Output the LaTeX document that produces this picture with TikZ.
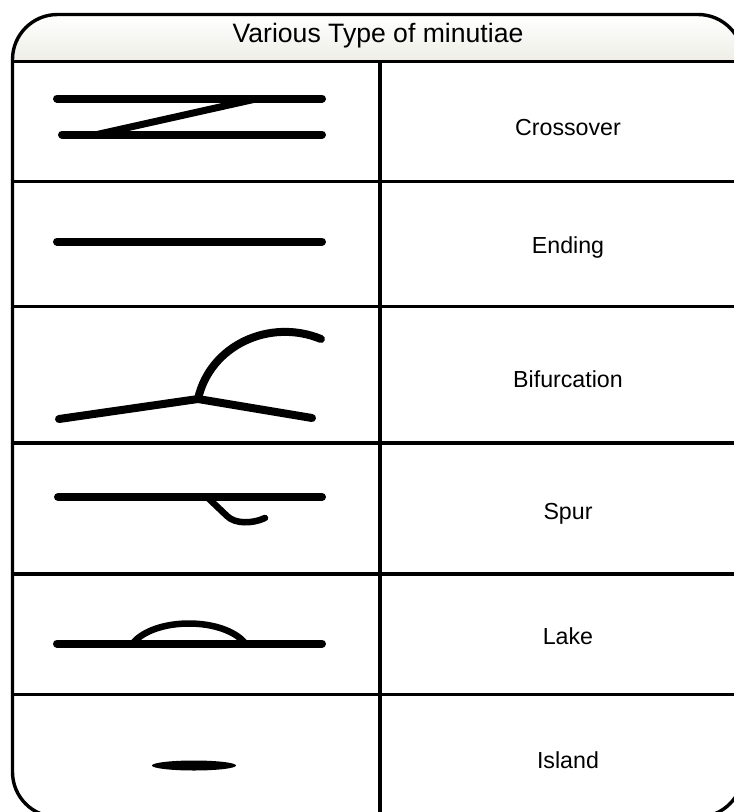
\documentclass[tikz,border=0pt]{standalone}
\usepackage{fontspec}
\setmainfont{Liberation Sans}
\begin{document}
\begin{tikzpicture}[x=1pt,y=-1pt,
  frame/.style={line width=3.4pt},
  grid/.style={line width=3.2pt},
  ridge/.style={line width=8pt,line cap=round,line join=round},
  thinridge/.style={line width=6.5pt,line cap=round,line join=round},
  lbl/.style={font=\fontsize{23.2}{27}\selectfont,anchor=center,inner sep=0pt},
  hdr/.style={font=\fontsize{26.6}{31}\selectfont,anchor=center,inner sep=0pt}]
\useasboundingbox (0,0) rectangle (734,812);
% header fill
\begin{scope}
  \clip[rounded corners=45pt] (12.5,14.5) rectangle (743,817);
  \shade[top color=white,bottom color={rgb,255:red,238;green,238;blue,230}] (12.5,14.5) rectangle (743,61.5);
\end{scope}
% outer frame
\draw[frame,rounded corners=45pt] (12.5,14.5) rectangle (743,817);
% row lines
\foreach \yy in {61.5,181.5,306.5,443,574,694.5}{
  \draw[grid] (12.5,\yy) -- (743,\yy);
}
\coordinate (vt) at (380,61.5);
\coordinate (vb) at (380,817);
\draw[grid] (vt) -- (vb);
% texts
\node[hdr] (title) at (378,35.5) {Various Type of minutiae};
\node[lbl] (t1) at (568,127.5) {Crossover};
\node[lbl] (t2) at (568,247.5) {Ending};
\node[lbl] (t3) at (568,379.5) {Bifurcation};
\node[lbl] (t4) at (568,513.5) {Spur};
\node[lbl] (t5) at (568,636.5) {Lake};
\node[lbl] (t6) at (568,760.5) {Island};
% crossover
\draw[ridge] (57,98.5) -- (322,98.5);
\draw[ridge] (62,134.5) -- (322,134.5);
\draw[line width=7pt,line cap=round] (97,134.5) -- (258,98.5);
% ending
\draw[ridge] (57,241.5) -- (322,241.5);
% bifurcation
\draw[ridge] (59,419) -- (198,399) -- (312,418);
\draw[ridge,line cap=round] (198,399) .. controls (210,345) and (270,318) .. (321,339);
% spur
\draw[ridge] (58,497) -- (322,497);
\draw[thinridge] (207,497) -- (227,516) .. controls (235,524) and (252,524) .. (265,518);
% lake
\draw[ridge] (57,643.5) -- (322,643.5);
\draw[thinridge] (133,643) .. controls (155,617) and (223,617) .. (245,643);
% island
\fill (194,765.5) ellipse [x radius=42pt,y radius=5pt];
\end{tikzpicture}
\end{document}
